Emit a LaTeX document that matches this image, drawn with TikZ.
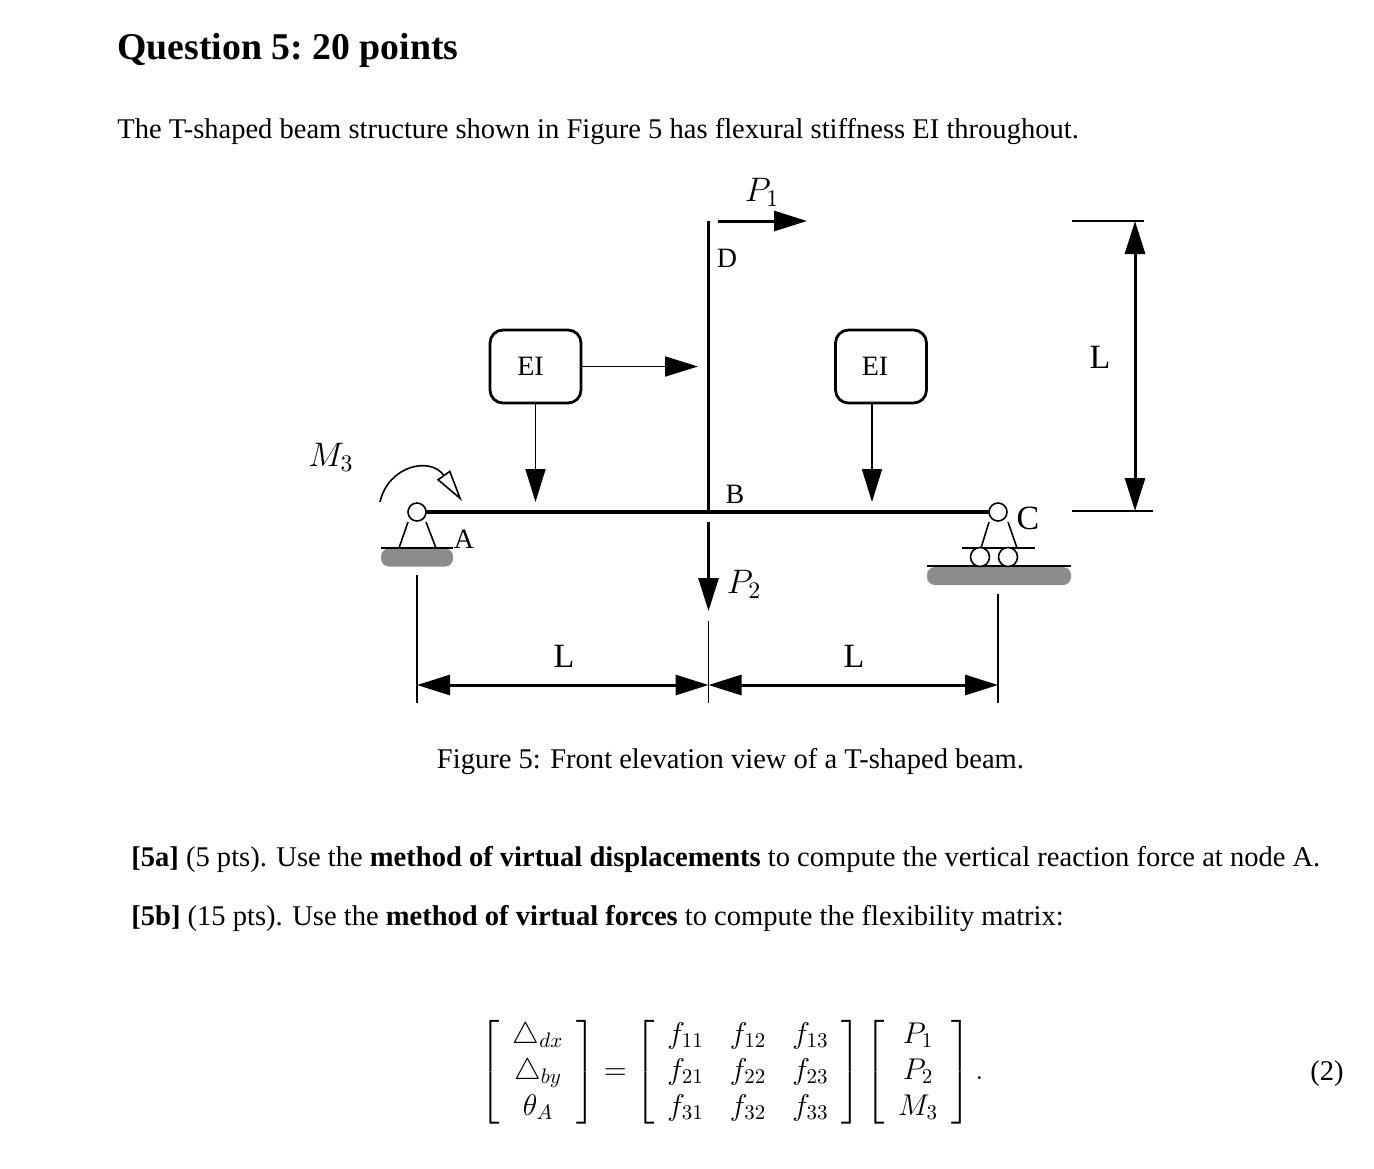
\RequirePackage{fix-cm}
\documentclass[tikz,border=0pt]{standalone}
\usepackage{amsmath}
\usepackage[no-math]{fontspec}
\setmainfont{Liberation Serif}
\usetikzlibrary{arrows.meta,positioning}
\setlength{\arraycolsep}{6.5pt}
\tikzstyle{beam}=[line width=1.7pt]
\tikzstyle{thin}=[line width=.8pt]
\tikzstyle{load}=[line width=.85pt,->]
\tikzstyle{force}=[line width=1.5pt,->]
\tikzstyle{dimline}=[line width=1.5pt,<->]
\tikzstyle{pin}=[circle,draw,line width=.8pt,fill=white,minimum size=9pt,inner sep=0pt]
\tikzstyle{wheel}=[circle,draw,line width=.8pt,fill=white,minimum size=9.5pt,inner sep=0pt]
\tikzstyle{ground}=[draw=none,fill=black!45,rounded corners=4pt]
\tikzstyle{eibox}=[draw,line width=1.4pt,rounded corners=6.5pt,minimum width=45.5pt,minimum height=36.5pt,inner sep=0pt,font=\fontsize{14}{17}\selectfont]
\tikzstyle{lab}=[inner sep=0pt,font=\fontsize{14}{17}\selectfont]
\tikzstyle{biglab}=[inner sep=0pt,font=\fontsize{17}{20}\selectfont]
\tikzstyle{para}=[inner sep=0pt,anchor=base west,font=\fontsize{14.27}{17}\selectfont]

\begin{document}
\begin{tikzpicture}[x=.5pt,y=-.5pt,>={Triangle[length=16.5pt,width=10pt]}]
\useasboundingbox (0,0) rectangle (1374,1168);
% text
\node [para,font=\fontsize{18.9}{23}\selectfont\bfseries\frenchspacing] (title) at (117,59) {Question 5: 20 points};
\node [para] (intro) at (117,138) {The T-shaped beam structure shown in Figure 5 has flexural stiffness EI throughout.};
\node [para,anchor=base] (caption) at (730.5,768) {Figure 5: Front elevation view of a T-shaped beam.};
\node [para] (parta) at (131,866) {\textbf{[5a]} (5 pts). Use the \textbf{method of virtual displacements} to compute the vertical reaction force at node A.};
\node [para] (partb) at (131,925) {\textbf{[5b]} (15 pts). Use the \textbf{method of virtual forces} to compute the flexibility matrix:};
% beam
\coordinate (A) at (417,512);
\coordinate (B) at (708.5,512);
\coordinate (C) at (998,512);
\coordinate (D) at (708.5,221);
\draw [beam] (A) -- (C);
\draw [beam] (B) -- (D);
\node [lab] (dlab) at (727,258) {D};
\node [lab] (blab) at (735,494) {B};
% support A
\node [ground,minimum width=36pt,minimum height=9pt] (groundA) at (417,557.5) {};
\coordinate (baseAl) at (381,548);
\coordinate (baseAr) at (453,548);
\draw [thin] (baseAl) -- (baseAr);
\draw [thin] (408,522) -- (399,548);
\draw [thin] (426,522) -- (436,548);
\node [pin] (pinA) at (A) {};
\node [lab] (alab) at (464,539) {A};
% support C
\node [ground,minimum width=72pt,minimum height=9pt] (groundC) at (999,576) {};
\draw [thin] (927,566) -- (1071,566);
\draw [thin] (962,548) -- (1035,548);
\draw [thin] (989,522) -- (981,548);
\draw [thin] (1008,522) -- (1017,548);
\node [wheel] (wheell) at (980,557) {};
\node [wheel] (wheelr) at (1008,557) {};
\node [pin] (pinC) at (C) {};
\node [biglab] (clab) at (1028,518) {C};
% moment
\coordinate (mstart) at (380,502);
\coordinate (mend) at (462,501);
\draw [thin,-{Triangle[open,length=16pt,width=8pt]}] (mstart) .. controls (388,466) and (430,456) .. (mend);
\node [biglab] (mlab) at (331,457) {$M_3$};
% EI boxes
\node [eibox] (eil) at (535.5,366.5) {EI\kern5pt};
\node [eibox] (eir) at (881,366.5) {EI\kern6pt};
\coordinate (loadl) at (535.5,502);
\coordinate (loadr) at (872,502);
\coordinate (loadm) at (698,366.5);
\draw [load] (eil) -- (loadm);
\draw [load] (eil) -- (loadl);
\draw [load] (eir.south -| loadr) -- (loadr);
% forces
\coordinate (ponestart) at (718,221);
\coordinate (poneend) at (807,221);
\coordinate (ptwostart) at (708.5,522);
\coordinate (ptwoend) at (708.5,611);
\draw [force] (ponestart) -- (poneend);
\draw [force] (ptwostart) -- (ptwoend);
\node [biglab] (pone) at (762,192) {$P_1$};
\node [biglab] (ptwo) at (744,584) {$P_2$};
% dimensions
\coordinate (tl) at (417,685);
\coordinate (tm) at (708.5,685);
\coordinate (tr) at (998,685);
\draw [thin] (417,575) -- (417,703);
\draw [thin] (708.5,621) -- (708.5,703);
\draw [thin] (998,594) -- (998,703);
\draw [dimline] (tl) -- (tm);
\draw [dimline] (tm) -- (tr);
\node [biglab] (ll) at (564,656) {L};
\node [biglab] (lr) at (854,656) {L};
\coordinate (vt) at (1135,221);
\coordinate (vb) at (1135,511);
\draw [thin] (1072,221) -- (1144,221);
\draw [thin] (1072,511) -- (1153,511);
\draw [dimline] (vt) -- (vb);
\node [biglab] (lv) at (1100,357) {L};
% equation
\node [inner sep=0pt,font=\fontsize{15}{18}\selectfont] (eqn) at (732,1072) {$\left[\begin{array}{c} \triangle_{dx}\\ \triangle_{by}\\ \theta_A \end{array}\right] = \left[\begin{array}{ccc} f_{11} & f_{12} & f_{13}\\ f_{21} & f_{22} & f_{23}\\ f_{31} & f_{32} & f_{33} \end{array}\right] \left[\begin{array}{c} P_1\\ P_2\\ M_3 \end{array}\right].$};
\node [para,anchor=base] (eqnum) at (1327,1080) {(2)};
\end{tikzpicture}
\end{document}
